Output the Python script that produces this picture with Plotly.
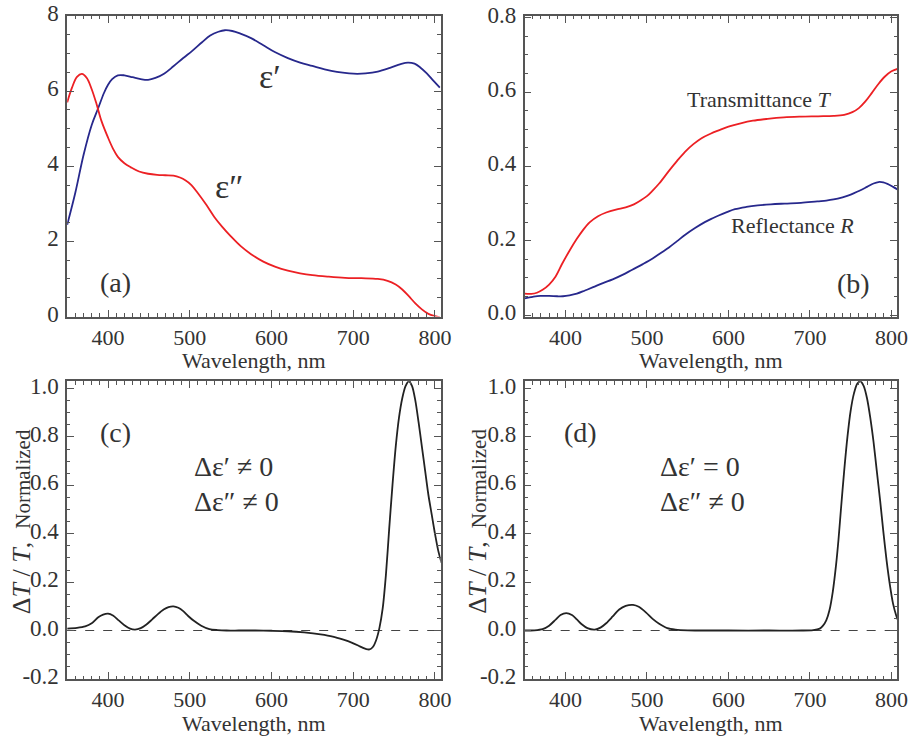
import plotly.graph_objects as go

# ---------------- data ----------------
# (a) dielectric function
wl_eps1 = [350, 360, 370, 380, 388, 395, 400, 405, 412, 420, 430, 440, 449, 458, 469, 480, 492, 503, 515, 525, 535, 543, 552, 562, 575, 590, 604, 620, 635, 650, 665, 680, 695, 705, 715, 730, 745, 758, 767, 775, 782, 790, 798, 806]
eps1 = [2.44, 3.30, 4.30, 5.10, 5.55, 5.95, 6.17, 6.32, 6.42, 6.42, 6.37, 6.32, 6.30, 6.35, 6.47, 6.66, 6.88, 7.07, 7.30, 7.48, 7.58, 7.62, 7.60, 7.53, 7.41, 7.22, 7.04, 6.88, 6.76, 6.67, 6.58, 6.51, 6.47, 6.46, 6.47, 6.52, 6.62, 6.72, 6.76, 6.73, 6.63, 6.47, 6.28, 6.09]

wl_eps2 = [350, 356, 362, 368, 374, 380, 386, 392, 400, 406, 412, 420, 428, 438, 449, 460, 470, 480, 488, 495, 502, 510, 520, 530, 540, 550, 562, 575, 590, 605, 620, 635, 650, 670, 690, 710, 730, 742, 752, 760, 768, 776, 784, 792, 800, 806]
eps2 = [5.70, 6.10, 6.38, 6.46, 6.35, 6.05, 5.65, 5.20, 4.76, 4.47, 4.25, 4.08, 3.97, 3.86, 3.80, 3.77, 3.76, 3.75, 3.70, 3.62, 3.50, 3.28, 2.98, 2.65, 2.38, 2.14, 1.88, 1.66, 1.46, 1.32, 1.22, 1.15, 1.10, 1.06, 1.03, 1.02, 1.00, 0.95, 0.85, 0.72, 0.54, 0.35, 0.19, 0.07, 0.01, -0.02]

# (b) transmittance and reflectance
wl_T = [350, 358, 365, 372, 380, 388, 396, 405, 414, 422, 430, 440, 450, 462, 474, 484, 492, 500, 507, 515, 527, 537, 547, 557, 567, 578, 588, 600, 615, 630, 648, 668, 689, 710, 729, 742, 752, 760, 768, 776, 784, 792, 800, 808]
trans = [0.0575, 0.057, 0.060, 0.068, 0.082, 0.104, 0.138, 0.173, 0.205, 0.230, 0.250, 0.266, 0.276, 0.284, 0.290, 0.298, 0.308, 0.320, 0.335, 0.354, 0.388, 0.415, 0.440, 0.460, 0.476, 0.488, 0.497, 0.507, 0.516, 0.523, 0.528, 0.532, 0.534, 0.535, 0.536, 0.539, 0.546, 0.557, 0.575, 0.598, 0.622, 0.642, 0.656, 0.663]

wl_R = [350, 360, 369, 380, 390, 397, 405, 414, 424, 434, 446, 458, 470, 482, 495, 507, 517, 527, 537, 547, 559, 571, 580, 588, 598, 608, 622, 636, 652, 669, 689, 709, 720, 729, 740, 750, 760, 770, 778, 784, 790, 796, 802, 808]
refl = [0.045, 0.049, 0.0515, 0.0515, 0.0505, 0.0506, 0.053, 0.0575, 0.066, 0.075, 0.086, 0.096, 0.108, 0.122, 0.137, 0.152, 0.167, 0.182, 0.199, 0.216, 0.234, 0.250, 0.260, 0.268, 0.277, 0.285, 0.291, 0.295, 0.298, 0.300, 0.302, 0.306, 0.308, 0.311, 0.317, 0.324, 0.334, 0.345, 0.354, 0.358, 0.357, 0.352, 0.345, 0.337]

# (c) dT/T, both components changing
wl_c = [350, 362, 372, 380, 388, 394, 400, 406, 413, 420, 427, 433, 440, 447, 454, 461, 468, 474, 480, 486, 492, 498, 505, 514, 524, 534, 545, 560, 580, 600, 620, 640, 660, 675, 688, 698, 706, 712, 716, 720, 724, 728, 732, 736, 740, 744, 748, 752, 756, 760, 764, 768, 772, 776, 780, 784, 788, 792, 796, 800, 804, 808]
dT_c = [0.008, 0.011, 0.017, 0.030, 0.055, 0.066, 0.070, 0.062, 0.042, 0.022, 0.008, 0.004, 0.010, 0.025, 0.046, 0.068, 0.087, 0.097, 0.100, 0.094, 0.080, 0.060, 0.040, 0.020, 0.006, 0.002, 0.000, 0.000, 0.000, -0.001, -0.003, -0.008, -0.016, -0.025, -0.038, -0.050, -0.062, -0.072, -0.077, -0.078, -0.068, -0.040, 0.010, 0.090, 0.230, 0.420, 0.600, 0.760, 0.880, 0.960, 1.010, 1.030, 1.010, 0.950, 0.860, 0.760, 0.660, 0.560, 0.480, 0.400, 0.330, 0.280]

# (d) dT/T, only eps'' changing
wl_d = [350, 362, 372, 380, 388, 394, 401, 408, 414, 420, 427, 436, 443, 450, 458, 466, 474, 483, 490, 499, 507, 515, 525, 535, 550, 600, 650, 690, 704, 712, 716, 720, 724, 728, 732, 735, 738, 742, 746, 750, 754, 758, 762, 766, 770, 774, 778, 782, 786, 790, 794, 798, 802, 806, 808]
dT_d = [0.000, 0.001, 0.006, 0.020, 0.045, 0.064, 0.072, 0.064, 0.046, 0.026, 0.010, 0.004, 0.012, 0.030, 0.058, 0.087, 0.102, 0.106, 0.098, 0.074, 0.048, 0.028, 0.010, 0.004, 0.001, 0.000, 0.000, 0.000, 0.002, 0.008, 0.020, 0.042, 0.085, 0.160, 0.270, 0.375, 0.500, 0.660, 0.800, 0.910, 0.980, 1.020, 1.030, 1.010, 0.960, 0.880, 0.780, 0.660, 0.540, 0.410, 0.290, 0.190, 0.110, 0.060, 0.042]

x_ticks = [400, 500, 600, 700, 800]
x_range = [350, 807]

# ---------------- styling ----------------
BLUE = "#27288c"
RED = "#ec2024"
BLACK = "#222222"
AXC = "#555555"
FONT = "Liberation Serif, serif"
TXT = "#333333"
W, H = 922, 744


def px_dom_x(l, r):
    return [l / W, r / W]


def px_dom_y(t, b):
    return [1 - b / H, 1 - t / H]


fig = go.Figure()

fig.add_trace(go.Scatter(x=wl_eps1, y=eps1, mode="lines", line=dict(color=BLUE, width=1.8, shape="spline", smoothing=1.0), xaxis="x", yaxis="y"))
fig.add_trace(go.Scatter(x=wl_eps2, y=eps2, mode="lines", line=dict(color=RED, width=1.8, shape="spline", smoothing=1.0), xaxis="x", yaxis="y"))
fig.add_trace(go.Scatter(x=wl_T, y=trans, mode="lines", line=dict(color=RED, width=1.8, shape="spline", smoothing=1.0), xaxis="x2", yaxis="y2"))
fig.add_trace(go.Scatter(x=wl_R, y=refl, mode="lines", line=dict(color=BLUE, width=1.8, shape="spline", smoothing=1.0), xaxis="x2", yaxis="y2"))
fig.add_trace(go.Scatter(x=wl_c, y=dT_c, mode="lines", line=dict(color=BLACK, width=1.8, shape="spline", smoothing=0.8), xaxis="x3", yaxis="y3"))
fig.add_trace(go.Scatter(x=wl_d, y=dT_d, mode="lines", line=dict(color=BLACK, width=1.8, shape="spline", smoothing=0.8), xaxis="x4", yaxis="y4"))


def xax(domain, anchor):
    return dict(domain=domain, anchor=anchor, range=x_range, tickvals=x_ticks,
                ticks="inside", ticklen=7, tickwidth=1.3, tickcolor=AXC,
                minor=dict(dtick=10, tick0=350, ticks="inside", ticklen=3.5, tickwidth=1, tickcolor=AXC),
                showline=True, linecolor=AXC, linewidth=1.5, mirror="allticks",
                showgrid=False, zeroline=False, ticklabeloverflow="allow",
                ticklabelstandoff=0,
                tickfont=dict(family=FONT, size=22, color=TXT))


def yax(domain, anchor, rng, vals, text, mdt):
    return dict(domain=domain, anchor=anchor, range=rng, tickvals=vals, ticktext=text,
                ticks="inside", ticklen=7, tickwidth=1.3, tickcolor=AXC,
                minor=dict(dtick=mdt, ticks="inside", ticklen=3.5, tickwidth=1, tickcolor=AXC),
                showline=True, linecolor=AXC, linewidth=1.5, mirror="allticks",
                showgrid=False, zeroline=False, ticklabeloverflow="allow",
                ticklabelshift=-3, ticklabelstandoff=2,
                tickfont=dict(family=FONT, size=23, color=TXT))


top = px_dom_y(1, 312)
bot = px_dom_y(379, 687)
left = px_dom_x(68, 446)
right = px_dom_x(531, 908)

ya_vals = [0, 2, 4, 6, 8]
yb_vals = [0.0, 0.2, 0.4, 0.6, 0.8]
ycd_vals = [-0.2, 0.0, 0.2, 0.4, 0.6, 0.8, 1.0]

fig.update_layout(
    width=W, height=H, margin=dict(l=0, r=0, t=0, b=0),
    paper_bgcolor="white", plot_bgcolor="white", showlegend=False,
    xaxis=xax(left, "y"),
    yaxis=yax(top, "x", [0, 8.0001], ya_vals, [str(v) for v in ya_vals], 0.5),
    xaxis2=xax(right, "y2"),
    yaxis2=yax(top, "x2", [-0.004, 0.805], yb_vals, ["0.0", "0.2", "0.4", "0.6", "0.8"], 0.05),
    xaxis3=xax(left, "y3"),
    yaxis3=yax(bot, "x3", [-0.2, 1.03], ycd_vals, ["-0.2", "0.0", "0.2", "0.4", "0.6", "0.8", "1.0"], 0.05),
    xaxis4=xax(right, "y4"),
    yaxis4=yax(bot, "x4", [-0.2, 1.03], ycd_vals, ["-0.2", "0.0", "0.2", "0.4", "0.6", "0.8", "1.0"], 0.05),
)

# dashed zero lines
for xr, yr in [("x3", "y3"), ("x4", "y4")]:
    fig.add_shape(type="line", xref=f"{xr} domain", yref=yr, x0=0, x1=1, y0=0, y1=0,
                  line=dict(color="#444444", width=1.2, dash="dash"), layer="below")


def ann(text, x, y, xref, yref, size, xanchor="center", yanchor="middle", angle=0):
    fig.add_annotation(text=text, x=x, y=y, xref=xref, yref=yref, showarrow=False,
                       xanchor=xanchor, yanchor=yanchor, textangle=angle,
                       font=dict(family=FONT, size=size, color=TXT))


# panel labels
ann("(a)", 409, 0.9, "x", "y", 28)
ann("(b)", 753, 0.085, "x2", "y2", 28)
ann("(c)", 409, 0.82, "x3", "y3", 28)
ann("(d)", 419, 0.82, "x4", "y4", 28)

# curve labels
ann("ε′", 598, 6.4, "x", "y", 34)
ann("ε″", 548, 3.45, "x", "y", 34)
ann("Transmittance <i>T</i>", 638, 0.579, "x2", "y2", 22)
ann("Reflectance <i>R</i>", 679, 0.24, "x2", "y2", 22)

ann("Δε′ ≠ 0", 503, 0.677, "x3", "y3", 28, xanchor="left")
ann("Δε″ ≠ 0", 503, 0.533, "x3", "y3", 28, xanchor="left")
ann("Δε′ = 0", 514, 0.677, "x4", "y4", 28, xanchor="left")
ann("Δε″ ≠ 0", 514, 0.533, "x4", "y4", 28, xanchor="left")

# axis titles
for xc in [(68 + 446) / 2, (531 + 908) / 2]:
    ann("Wavelength, nm", xc / W, 1 - 358 / H, "paper", "paper", 22)
    ann("Wavelength, nm", xc / W, 1 - 733 / H, "paper", "paper", 22)

ytitle = "Δ<i>T</i> / <i>T</i>,  <span style='font-size:21px'>Normalized</span>"
ann(ytitle, 22 / W, 1 - 524 / H, "paper", "paper", 26, angle=-90)
ann(ytitle, 483 / W, 1 - 524 / H, "paper", "paper", 26, angle=-90)

fig.write_html("out.html")
